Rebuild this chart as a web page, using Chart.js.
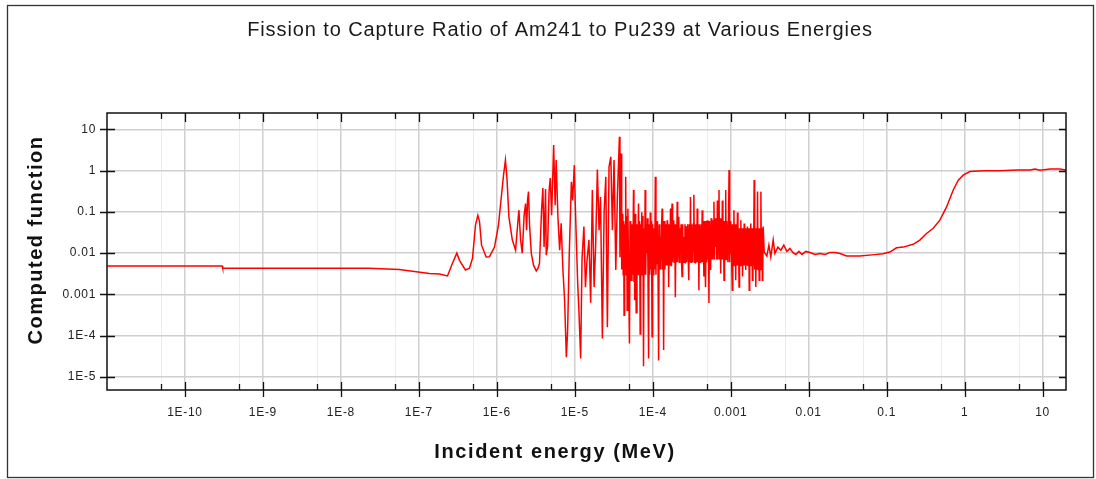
<!DOCTYPE html>
<html>
<head>
<meta charset="utf-8">
<script src="https://cdn.jsdelivr.net/npm/chart.js@4.4.1/dist/chart.umd.min.js"></script>
<style>
  html, body { margin: 0; padding: 0; background: #ffffff; }
  #wrap { width: 1096px; height: 479px; position: relative; }
</style>
</head>
<body>
<div id="wrap"><canvas id="c" width="1096" height="479"></canvas></div>
<script>
// ---- Data ----
const chartTitle = "Fission to Capture Ratio of Am241 to Pu239 at Various Energies";
const xTitle = "Incident energy (MeV)";
const yTitle = "Computed function";

const xMajorTicks = [1e-10, 1e-9, 1e-8, 1e-7, 1e-6, 1e-5, 1e-4, 1e-3, 1e-2, 1e-1, 1, 10];
const xTickLabels = ["1E-10", "1E-9", "1E-8", "1E-7", "1E-6", "1E-5", "1E-4", "0.001", "0.01", "0.1", "1", "10"];
const yMajorTicks = [1e-5, 1e-4, 1e-3, 1e-2, 1e-1, 1, 10];
const yTickLabels = ["1E-5", "1E-4", "0.001", "0.01", "0.1", "1", "10"];

// Thermal + resolved resonances: incident energy (MeV) and ratio
const energyLow = [
  1e-11, 3.0e-10, 3.05e-10, 2.3e-8, 5.6e-8, 1.37e-7, 1.84e-7, 2.33e-7,
  2.70e-7, 3.07e-7, 3.32e-7, 3.96e-7, 4.46e-7, 4.88e-7, 5.33e-7, 5.71e-7, 6.0e-7, 6.37e-7,
  7.31e-7, 8.06e-7, 9.34e-7, 1.05e-6, 1.15e-6, 1.22e-6, 1.29e-6, 1.35e-6, 1.43e-6, 1.58e-6,
  1.74e-6, 1.85e-6, 1.92e-6, 2.02e-6, 2.12e-6, 2.24e-6, 2.34e-6, 2.41e-6, 2.48e-6, 2.55e-6,
  2.63e-6, 2.77e-6, 2.96e-6, 3.21e-6, 3.38e-6, 3.53e-6, 3.75e-6, 3.90e-6, 4.04e-6, 4.22e-6,
  4.31e-6, 4.48e-6, 4.69e-6, 4.85e-6, 5.05e-6, 5.36e-6, 5.60e-6, 5.77e-6, 6.08e-6, 6.40e-6,
  6.69e-6, 7.05e-6, 7.41e-6, 7.80e-6, 8.10e-6, 8.48e-6, 9.05e-6, 9.40e-6, 9.86e-6, 1.02e-5,
  1.09e-5, 1.13e-5, 1.19e-5, 1.24e-5, 1.31e-5, 1.37e-5, 1.43e-5, 1.52e-5, 1.60e-5, 1.68e-5,
  1.77e-5, 1.85e-5, 1.95e-5, 2.05e-5, 2.14e-5, 2.26e-5, 2.38e-5, 2.50e-5, 2.62e-5, 2.75e-5,
  2.90e-5, 3.04e-5, 3.19e-5, 3.36e-5, 3.52e-5
];
const ratioLow = [
  0.0049, 0.0049, 0.0043, 0.0043, 0.0040, 0.0032, 0.0031, 0.0028,
  0.0057, 0.0100, 0.0067, 0.0039, 0.0043, 0.0075, 0.048, 0.083, 0.058, 0.0156,
  0.0081, 0.0082, 0.014, 0.048, 0.26, 0.78, 1.8, 0.66, 0.076, 0.021,
  0.0118, 0.048, 0.11, 0.021, 0.0099, 0.083, 0.16, 0.036, 0.19, 0.31,
  0.048, 0.0099, 0.0051, 0.0037, 0.0043, 0.0057, 0.11, 0.38, 0.014, 0.36,
  0.0089, 0.0146, 0.34, 0.66, 0.083, 4.2, 0.145, 1.8, 0.076, 0.0118,
  0.053, 0.0039, 0.00072, 3.0e-5, 0.000135, 0.0081, 0.54, 0.19, 1.36, 0.11,
  0.0019, 0.00041, 2.8e-5, 0.0075, 0.044, 0.0015, 0.006, 0.021, 0.00063, 0.34,
  0.0015, 0.014, 1.07, 0.036, 0.23, 8.5e-5, 0.098, 0.71, 0.00016, 1.23,
  2.16, 0.036, 1.8, 0.0039, 0.23
];

// Dense (unresolved) resonance region
const energyDense = [
  3.74e-5, 3.80e-5, 3.87e-5,   3.93e-5, 4.00e-5, 4.06e-5,   4.13e-5, 4.18e-5, 4.24e-5,
  4.29e-5, 4.36e-5, 4.43e-5,   4.50e-5, 4.57e-5, 4.63e-5,   4.70e-5, 4.80e-5, 4.92e-5,
  5.03e-5, 5.12e-5, 5.21e-5,   5.30e-5, 5.42e-5, 5.55e-5,   5.67e-5, 5.74e-5, 5.80e-5,
  5.87e-5, 5.96e-5, 6.05e-5,   6.14e-5, 6.28e-5, 6.42e-5,   6.57e-5, 6.68e-5, 6.79e-5,
  6.90e-5, 7.01e-5, 7.12e-5,   7.23e-5, 7.36e-5, 7.49e-5,   7.62e-5, 7.74e-5, 7.87e-5,
  8.00e-5, 8.13e-5, 8.26e-5,   8.39e-5, 8.54e-5, 8.69e-5,   8.85e-5, 9.00e-5, 9.15e-5,
  9.30e-5, 9.46e-5, 9.63e-5,   9.80e-5, 9.96e-5, 1.01e-4,   1.03e-4, 1.045e-4, 1.06e-4,
  1.08e-4, 1.10e-4, 1.12e-4,   1.135e-4, 1.15e-4, 1.17e-4,  1.19e-4, 1.21e-4, 1.23e-4,
  1.25e-4, 1.27e-4, 1.30e-4,   1.32e-4, 1.34e-4, 1.36e-4,   1.38e-4, 1.40e-4, 1.43e-4,
  1.45e-4, 1.48e-4, 1.50e-4,   1.53e-4, 1.55e-4, 1.58e-4,   1.60e-4, 1.63e-4, 1.66e-4,
  1.69e-4, 1.72e-4, 1.74e-4,   1.77e-4, 1.80e-4, 1.83e-4,   1.86e-4, 1.89e-4, 1.92e-4,
  1.95e-4, 1.99e-4, 2.02e-4,   2.06e-4, 2.09e-4, 2.13e-4,   2.16e-4, 2.20e-4, 2.23e-4,
  2.27e-4, 2.31e-4, 2.34e-4,   2.38e-4, 2.42e-4, 2.46e-4,   2.50e-4, 2.54e-4, 2.59e-4,
  2.63e-4, 2.68e-4, 2.72e-4,   2.77e-4, 2.81e-4, 2.86e-4,   2.90e-4, 2.95e-4, 3.00e-4,
  3.05e-4, 3.10e-4, 3.15e-4,   3.20e-4, 3.25e-4, 3.31e-4,   3.37e-4, 3.43e-4, 3.48e-4,
  3.54e-4, 3.60e-4, 3.66e-4,   3.72e-4, 3.78e-4, 3.85e-4,   3.91e-4, 3.97e-4, 4.04e-4,
  4.10e-4, 4.17e-4, 4.24e-4,   4.31e-4, 4.38e-4, 4.45e-4,   4.53e-4, 4.60e-4, 4.68e-4,
  4.76e-4, 4.84e-4, 4.92e-4,   5.00e-4, 5.08e-4, 5.17e-4,   5.26e-4, 5.35e-4, 5.44e-4,
  5.53e-4, 5.62e-4, 5.71e-4,   5.81e-4, 5.91e-4, 6.00e-4,   6.10e-4, 6.20e-4, 6.30e-4,
  6.41e-4, 6.52e-4, 6.63e-4,   6.74e-4, 6.85e-4, 6.96e-4,   7.08e-4, 7.20e-4, 7.32e-4,
  7.44e-4, 7.56e-4, 7.69e-4,   7.82e-4, 7.95e-4, 8.08e-4,   8.21e-4, 8.35e-4, 8.49e-4,
  8.63e-4, 8.77e-4, 8.92e-4,   9.07e-4, 9.22e-4, 9.37e-4,   9.53e-4, 9.69e-4, 9.84e-4,
  1.00e-3, 1.015e-3, 1.03e-3,  1.05e-3, 1.065e-3, 1.08e-3,  1.10e-3, 1.12e-3, 1.14e-3,
  1.16e-3, 1.18e-3, 1.20e-3,   1.22e-3, 1.24e-3, 1.26e-3,   1.28e-3, 1.30e-3, 1.325e-3,
  1.35e-3, 1.37e-3, 1.40e-3,   1.42e-3, 1.44e-3, 1.465e-3,  1.49e-3, 1.51e-3, 1.54e-3,
  1.56e-3, 1.585e-3, 1.61e-3,  1.64e-3, 1.67e-3, 1.70e-3,   1.73e-3, 1.755e-3, 1.78e-3,
  1.81e-3, 1.84e-3, 1.87e-3,   1.90e-3, 1.93e-3, 1.965e-3,  2.00e-3, 2.03e-3, 2.065e-3,
  2.10e-3, 2.135e-3, 2.17e-3,  2.21e-3, 2.245e-3, 2.28e-3,  2.32e-3, 2.36e-3, 2.40e-3,
  2.44e-3, 2.48e-3, 2.51e-3,   2.55e-3, 2.57e-3, 2.59e-3
];
const ratioDense = [
  6.6, 0.008, 0.15,         2.6, 0.004, 0.09,         0.021, 0.003, 0.06,
  0.00031, 0.05, 0.004,     0.71, 0.003, 0.08,        0.00041, 0.12, 0.002,
  6.4e-5, 0.06, 0.02,       0.0022, 0.05, 0.003,      0.34, 0.002, 0.07,
  0.00072, 0.09, 0.004,     0.00036, 0.05, 0.003,     0.16, 0.003, 0.06,
  0.00011, 0.05, 0.003,     0.098, 0.004, 0.08,       1.8e-5, 0.04, 0.003,
  0.34, 0.003, 0.05,        0.0099, 0.07, 0.004,      2.8e-5, 0.05, 0.003,
  0.097, 0.004, 0.06,       9.4e-5, 0.05, 0.003,      0.0099, 0.04, 0.004,
  0.71, 0.003, 0.05,        0.0057, 0.06, 0.004,      2.5e-5, 0.05, 0.004,
  0.025, 0.004, 0.05,       0.12, 0.004, 0.05,        4.5e-5, 0.06, 0.004,
  0.0099, 0.05, 0.005,      0.063, 0.005, 0.05,       0.0015, 0.05, 0.005,
  0.12, 0.005, 0.04,        0.16, 0.006, 0.05,        0.063, 0.006, 0.05,
  0.00085, 0.05, 0.006,     0.175, 0.006, 0.05,       0.076, 0.006, 0.04,
  0.014, 0.05, 0.006,       0.0027, 0.05, 0.006,      0.025, 0.006, 0.05,
  0.0056, 0.045, 0.006,     0.014, 0.05, 0.006,       0.0022, 0.05, 0.006,
  0.23, 0.006, 0.05,        0.014, 0.006, 0.05,       0.26, 0.006, 0.05,
  0.0056, 0.05, 0.006,      0.12, 0.006, 0.05,        0.00126, 0.05, 0.006,
  0.0082, 0.05, 0.006,      0.11, 0.006, 0.06,        0.0027, 0.06, 0.006,
  0.0015, 0.06, 0.006,      0.063, 0.007, 0.06,       0.00062, 0.06, 0.007,
  0.0039, 0.07, 0.007,      0.063, 0.007, 0.06,       0.175, 0.007, 0.07,
  0.014, 0.07, 0.007,       0.19, 0.007, 0.06,        0.34, 0.007, 0.07,
  0.0032, 0.07, 0.007,      0.19, 0.007, 0.06,        0.0022, 0.06, 0.007,
  0.34, 0.007, 0.06,        0.021, 0.006, 0.05,       1.03, 0.006, 0.06,
  0.0097, 0.05, 0.006,      0.00126, 0.05, 0.005,     0.11, 0.005, 0.05,
  0.0022, 0.05, 0.005,      0.097, 0.005, 0.04,       0.0015, 0.04, 0.005,
  0.063, 0.005, 0.04,       0.0027, 0.04, 0.005,      0.052, 0.005, 0.04,
  0.0039, 0.04, 0.005,      0.044, 0.005, 0.04,       0.00126, 0.04, 0.005,
  0.052, 0.005, 0.04,       0.0022, 0.04, 0.005,      0.59, 0.004, 0.04,
  0.0015, 0.04, 0.004,      0.31, 0.004, 0.04,        0.0022, 0.04, 0.004,
  0.31, 0.004, 0.04,        0.0022, 0.04, 0.004
];

// Smooth region above the resonances
const energyHigh = [
  2.61e-3, 2.69e-3, 2.91e-3, 3.09e-3, 3.27e-3, 3.51e-3, 3.69e-3, 4.03e-3, 4.40e-3,
  4.80e-3, 5.26e-3, 5.74e-3, 6.28e-3, 6.86e-3, 7.50e-3, 8.20e-3, 9.20e-3, 1.04e-2, 1.21e-2,
  1.40e-2, 1.63e-2, 1.88e-2, 2.19e-2, 2.53e-2, 3.06e-2, 4.53e-2, 7.05e-2, 9.0e-2, 0.11,
  0.134, 0.163, 0.219, 0.267, 0.325, 0.396, 0.482, 0.588, 0.716, 0.83,
  0.96, 1.17, 1.74, 2.84, 4.66, 6.9, 8.0, 9.27, 12.5, 16.7, 20
];
const ratioHigh = [
  0.044, 0.0106, 0.0085, 0.0156, 0.0081, 0.021, 0.0099, 0.014, 0.0118,
  0.0156, 0.011, 0.013, 0.0104, 0.0093, 0.011, 0.0093, 0.011, 0.0104, 0.0093,
  0.0098, 0.0093, 0.0104, 0.0104, 0.0098, 0.0085, 0.0085, 0.0092, 0.0097, 0.0106,
  0.0135, 0.014, 0.0164, 0.0207, 0.030, 0.040, 0.063, 0.132, 0.34, 0.59,
  0.78, 0.95, 1.0, 1.0, 1.03, 1.04, 1.1, 1.03, 1.1, 1.1, 1.03
];

// ---- Chart ----
const energy = energyLow.concat(energyDense, energyHigh);
const ratio = ratioLow.concat(ratioDense, ratioHigh);
const points = energy.map((e, i) => ({ x: e, y: ratio[i] }));

const X_MIN = 1e-11, X_MAX = 20, Y_MIN = 4.8e-6, Y_MAX = 25;

function makeTicks(majors, withMinor, lo, hi) {
  const out = [];
  majors.forEach((v, i) => {
    if (withMinor && i === 0) out.push({ value: v / 2, major: false });
    out.push({ value: v, major: true });
    if (withMinor) out.push({ value: v * 5, major: false });
  });
  return out.filter(t => t.value >= lo && t.value <= hi);
}

const FONT = '"Liberation Sans", Arial, sans-serif';

const frameAndText = {
  id: 'frameAndText',
  beforeDraw(chart) {
    chart.ctx.letterSpacing = '0.7px';
  },
  afterDraw(chart) {
    const ctx = chart.ctx;
    const a = chart.chartArea;
    const xs = chart.scales.x, ys = chart.scales.y;
    ctx.save();
    ctx.letterSpacing = '0px';
    // outer frame
    ctx.strokeStyle = '#333';
    ctx.lineWidth = 1.3;
    ctx.strokeRect(7.5, 5.5, 1086, 472);
    // plot border
    ctx.strokeStyle = '#111';
    ctx.lineWidth = 1.5;
    ctx.strokeRect(a.left, a.top, a.right - a.left, a.bottom - a.top);
    // x tick marks (bottom & top)
    ctx.lineWidth = 1.3;
    xs.ticks.forEach(t => {
      const px = Math.round(xs.getPixelForValue(t.value)) + 0.5;
      if (px < a.left || px > a.right) return;
      ctx.beginPath();
      if (t.major) {
        ctx.moveTo(px, a.bottom - 8); ctx.lineTo(px, a.bottom + 7);
        ctx.moveTo(px, a.top); ctx.lineTo(px, a.top + 9);
      } else {
        ctx.moveTo(px, a.bottom - 6); ctx.lineTo(px, a.bottom);
        ctx.moveTo(px, a.top); ctx.lineTo(px, a.top + 6);
      }
      ctx.stroke();
    });
    // y tick marks (left & right)
    ys.ticks.forEach(t => {
      const py = Math.round(ys.getPixelForValue(t.value)) + 0.5;
      ctx.beginPath();
      ctx.moveTo(a.left - 7, py); ctx.lineTo(a.left + 8, py);
      ctx.moveTo(a.right - 7, py); ctx.lineTo(a.right, py);
      ctx.stroke();
    });
    // titles
    ctx.fillStyle = '#1a1a1a';
    ctx.textAlign = 'center';
    ctx.textBaseline = 'middle';
    ctx.letterSpacing = '0.9px';
    ctx.font = '20px ' + FONT;
    ctx.fillText(chartTitle, 560, 30);
    ctx.fillStyle = '#111';
    ctx.letterSpacing = '1.6px';
    ctx.font = 'bold 20px ' + FONT;
    ctx.fillText(xTitle, 555, 452);
    ctx.translate(36, 240);
    ctx.rotate(-Math.PI / 2);
    ctx.letterSpacing = '1.5px';
    ctx.fillText(yTitle, 0, 0);
    ctx.restore();
  }
};

new Chart(document.getElementById('c'), {
  type: 'line',
  data: {
    datasets: [
      { data: points, borderColor: '#ff0000', borderWidth: 1.5, pointRadius: 0, tension: 0, fill: false }
    ]
  },
  options: {
    responsive: false,
    animation: false,
    devicePixelRatio: 1,
    layout: { padding: { left: 0, top: 113, right: 30, bottom: 0 } },
    plugins: { legend: { display: false }, title: { display: false }, tooltip: { enabled: false } },
    scales: {
      x: {
        type: 'logarithmic',
        min: X_MIN,
        max: X_MAX,
        afterBuildTicks: s => { s.ticks = makeTicks(xMajorTicks, true, X_MIN, X_MAX); },
        afterFit: s => { s.height = 89; s.paddingLeft = 0; s.paddingRight = 0; },
        grid: {
          drawTicks: false,
          color: c => (c.tick && c.tick.major) ? '#cfcfcf' : '#ececec',
          lineWidth: c => (c.tick && c.tick.major) ? 1.5 : 1
        },
        border: { display: false },
        ticks: {
          autoSkip: false, maxRotation: 0, minRotation: 0, padding: 15,
          color: '#222', font: { family: FONT, size: 12 },
          callback: (v) => {
            const i = xMajorTicks.findIndex(m => Math.abs(m - v) / m < 1e-6);
            return i >= 0 ? xTickLabels[i] : '';
          }
        }
      },
      y: {
        type: 'logarithmic',
        min: Y_MIN,
        max: Y_MAX,
        afterBuildTicks: s => { s.ticks = makeTicks(yMajorTicks, false, Y_MIN, Y_MAX); },
        afterFit: s => { s.width = 107; },
        grid: { drawTicks: false, color: '#cfcfcf', lineWidth: 1.5 },
        border: { display: false },
        ticks: {
          autoSkip: false, padding: 11,
          color: '#222', font: { family: FONT, size: 12 },
          callback: (v) => {
            const i = yMajorTicks.findIndex(m => Math.abs(m - v) / m < 1e-6);
            return i >= 0 ? yTickLabels[i] : '';
          }
        }
      }
    }
  },
  plugins: [frameAndText]
});
</script>
</body>
</html>
